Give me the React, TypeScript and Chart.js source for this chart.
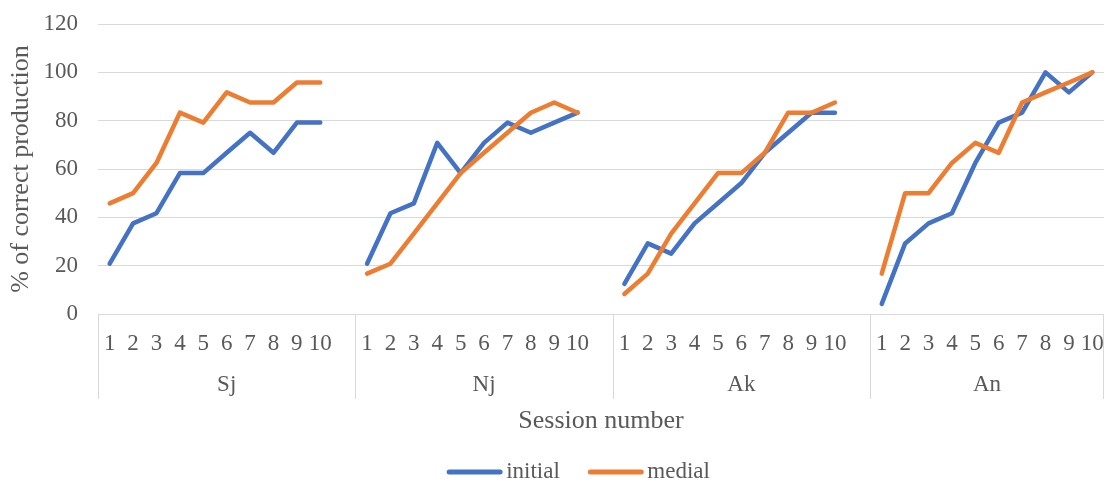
import React, { useEffect, useRef } from "react";
import { Chart, registerables } from "chart.js";

Chart.register(...registerables);

const groups = ["Sj", "Nj", "Ak", "An"];
const sessions = ["1", "2", "3", "4", "5", "6", "7", "8", "9", "10"];

const initialSj = [20.8, 37.5, 41.7, 58.3, 58.3, 66.7, 75, 66.7, 79.2, 79.2];
const initialNj = [20.8, 41.7, 45.8, 70.8, 58.3, 70.8, 79.2, 75, 79.2, 83.3];
const initialAk = [12.5, 29.2, 25, 37.5, 45.8, 54.2, 66.7, 75, 83.3, 83.3];
const initialAn = [4.2, 29.2, 37.5, 41.7, 62.5, 79.2, 83.3, 100, 91.7, 100];

const medialSj = [45.8, 50, 62.5, 83.3, 79.2, 91.7, 87.5, 87.5, 95.8, 95.8];
const medialNj = [16.7, 20.8, 33.3, 45.8, 58.3, 66.7, 75, 83.3, 87.5, 83.3];
const medialAk = [8.3, 16.7, 33.3, 45.8, 58.3, 58.3, 66.7, 83.3, 83.3, 87.5];
const medialAn = [16.7, 50, 50, 62.5, 70.8, 66.7, 87.5, 91.7, 95.8, 100];

const yTicks = [0, 20, 40, 60, 80, 100, 120];

const BLUE = "#4472C4";
const ORANGE = "#ED7D31";
const TEXT = "#595959";
const GRID = "#D9D9D9";
const FONT = "'Liberation Serif', 'Times New Roman', serif";

// Each group is followed by one empty spacer category (except the last one).
const withSpacer = <T,>(parts: T[][], spacer: T): T[] =>
  parts.flatMap((p, i) => (i < parts.length - 1 ? [...p, spacer] : p));

const labels = withSpacer(groups.map(() => sessions), "");
const initialData = withSpacer<number | null>([initialSj, initialNj, initialAk, initialAn], null);
const medialData = withSpacer<number | null>([medialSj, medialNj, medialAk, medialAn], null);

const groupAxisPlugin = {
  id: "groupAxis",
  afterDraw(chart: any) {
    const { ctx, chartArea, scales } = chart;
    const x = scales.x;
    const n = labels.length;
    const w = (x.right - x.left) / n;
    const bottom = chartArea.bottom;
    // group boundaries in category slots
    const bounds: number[] = [0];
    labels.forEach((l, i) => {
      if (l === "") bounds.push(i + 1);
    });
    bounds.push(n);

    ctx.save();
    ctx.strokeStyle = GRID;
    ctx.lineWidth = 1;
    ctx.beginPath();
    ctx.moveTo(x.left, Math.round(bottom) + 0.5);
    ctx.lineTo(x.right, Math.round(bottom) + 0.5);
    bounds.forEach((b, i) => {
      let px = Math.round(x.left + b * w) + 0.5;
      if (i === bounds.length - 1) px -= 1;
      ctx.moveTo(px, bottom);
      ctx.lineTo(px, bottom + 85);
    });
    ctx.stroke();
    ctx.fillStyle = TEXT;
    ctx.font = `23px ${FONT}`;
    ctx.textAlign = "center";
    ctx.textBaseline = "middle";
    groups.forEach((g, i) => {
      const cx = x.left + ((bounds[i] + bounds[i + 1]) / 2) * w;
      ctx.fillText(g, cx, bottom + 71);
    });

    // legend
    const lineLen = 51;
    const capGap = 6;
    const itemGap = 30.5;
    ctx.font = `23px ${FONT}`;
    const items = chart.data.datasets.map((d: any) => ({
      label: d.label,
      color: d.borderColor,
      tw: ctx.measureText(d.label).width,
    }));
    let total = 0;
    items.forEach((it: any, i: number) => {
      total += lineLen + capGap + it.tw + (i < items.length - 1 ? itemGap : 0);
    });
    let cur = chart.width / 2 + 25 - total / 2;
    const ly = chart.height - 13;
    ctx.textAlign = "left";
    ctx.lineCap = "round";
    ctx.lineWidth = 5;
    items.forEach((it: any) => {
      ctx.strokeStyle = it.color;
      ctx.beginPath();
      ctx.moveTo(cur, ly);
      ctx.lineTo(cur + lineLen, ly);
      ctx.stroke();
      ctx.fillStyle = TEXT;
      ctx.fillText(it.label, cur + lineLen + capGap, ly);
      cur += lineLen + capGap + it.tw + itemGap;
    });
    ctx.restore();
  },
};

export default function App() {
  const ref = useRef<HTMLCanvasElement>(null);
  useEffect(() => {
    if (!ref.current) return;
    const chart = new Chart(ref.current, {
      type: "line",
      data: {
        labels,
        datasets: [
          {
            label: "initial",
            data: initialData,
            borderColor: BLUE,
            backgroundColor: BLUE,
            borderWidth: 4.5,
            pointRadius: 0,
            pointHoverRadius: 0,
            borderCapStyle: "round",
            borderJoinStyle: "round",
            tension: 0,
            spanGaps: false,
            order: 1,
          },
          {
            label: "medial",
            data: medialData,
            borderColor: ORANGE,
            backgroundColor: ORANGE,
            borderWidth: 4.5,
            pointRadius: 0,
            pointHoverRadius: 0,
            borderCapStyle: "round",
            borderJoinStyle: "round",
            tension: 0,
            spanGaps: false,
            order: 0,
          },
        ],
      },
      options: {
        animation: false,
        responsive: true,
        maintainAspectRatio: false,
        layout: { padding: { top: 24, right: 5, left: 0, bottom: 48 } },
        plugins: {
          tooltip: { enabled: false },
          legend: { display: false },
        },
        scales: {
          x: {
            type: "category",
            offset: true,
            grid: { display: false, drawTicks: false },
            border: { display: false },
            ticks: {
              color: TEXT,
              font: { family: FONT, size: 23 },
              padding: 16,
              maxRotation: 0,
              autoSkip: false,
            },
            title: {
              display: true,
              text: "Session number",
              color: TEXT,
              font: { family: FONT, size: 26 },
              padding: { top: 0, bottom: 0 },
            },
            afterFit: (axis: any) => {
              axis.height = 123;
              axis.paddingLeft = 0;
              axis.paddingRight = 0;
            },
          },
          y: {
            min: 0,
            max: 120,
            afterBuildTicks: (axis: any) => {
              axis.ticks = yTicks.map((v) => ({ value: v }));
            },
            grid: { color: GRID, lineWidth: 1, drawTicks: false },
            border: { display: false },
            ticks: {
              color: TEXT,
              font: { family: FONT, size: 23 },
              padding: 20,
            },
            title: {
              display: true,
              text: "% of correct production",
              color: TEXT,
              font: { family: FONT, size: 26 },
              padding: { top: 6, bottom: 0 },
            },
            afterFit: (axis: any) => {
              axis.width = 98;
              axis.paddingTop = 0;
              axis.paddingBottom = 0;
            },
          },
        },
      },
      plugins: [groupAxisPlugin],
    });
    return () => chart.destroy();
  }, []);
  return (
    <div style={{ position: "absolute", left: 0, top: 0, width: 1109, height: 485 }}>
      <canvas ref={ref} />
    </div>
  );
}
